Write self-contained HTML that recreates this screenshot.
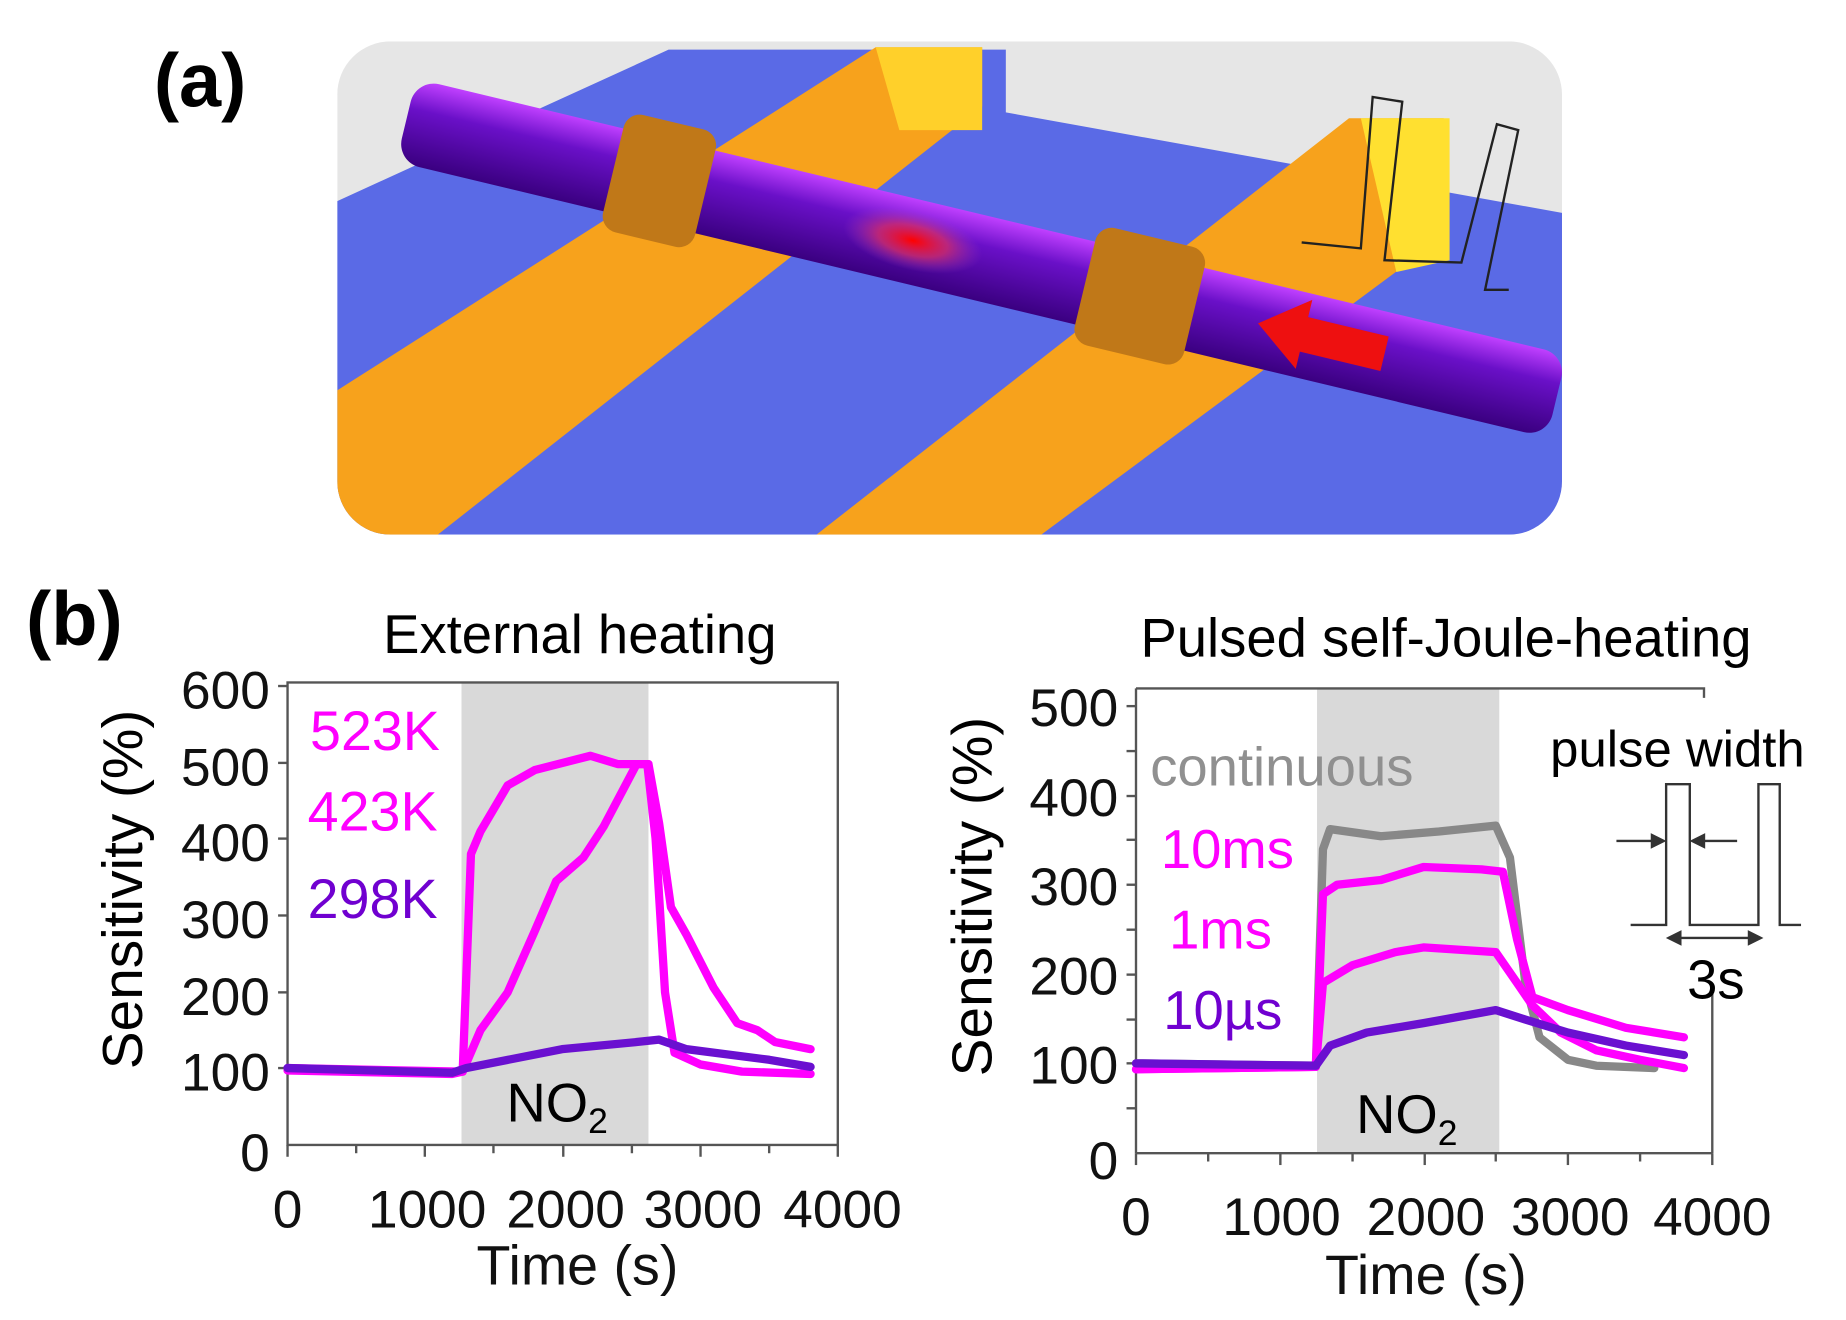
<!DOCTYPE html>
<html><head><meta charset="utf-8"><style>html,body{margin:0;padding:0;background:#fff}svg{display:block}</style></head>
<body>
<svg width="1846" height="1320" viewBox="0 0 1560 1116" preserveAspectRatio="none" xmlns="http://www.w3.org/2000/svg" font-family="Liberation Sans, Arial, sans-serif">
<defs>
<clipPath id="pa"><rect x="285" y="35" width="1035" height="417" rx="45"/></clipPath>
<linearGradient id="wire" x1="0" y1="0" x2="0" y2="1"><stop offset="0" stop-color="#c040ff"/><stop offset="0.35" stop-color="#6a10c8"/><stop offset="1" stop-color="#3a0080"/></linearGradient>
<radialGradient id="spot"><stop offset="0" stop-color="#ff0000"/><stop offset="0.5" stop-color="#e03060" stop-opacity="0.7"/><stop offset="1" stop-color="#a040c0" stop-opacity="0"/></radialGradient>
</defs>
<g clip-path="url(#pa)">
<rect x="285" y="35" width="1035" height="417" fill="#e6e6e6"/>
<polygon points="285,170 565,42 850,42 850,95 1320,180 1320,452 285,452" fill="#5a6ae6"/>
<polygon points="285,330 740,40 830,40 830,90 370,452 285,452" fill="#f7a21c"/>
<polygon points="740,40 830,40 830,110 760,110" fill="#ffd02a"/>
<polygon points="690,452 1140,100 1220,100 1220,200 880,452" fill="#f7a21c"/>
<polygon points="1150,100 1225,100 1225,220 1180,230" fill="#ffe030"/>
<g transform="rotate(13.5 820 215)">
<rect x="330" y="180" width="1000" height="72" rx="20" fill="url(#wire)"/>
<rect x="510" y="165" width="80" height="102" rx="14" fill="#c07818"/>
<rect x="920" y="165" width="95" height="102" rx="14" fill="#c07818"/>
<ellipse cx="770" cy="215" rx="60" ry="25" fill="url(#spot)"/>
<polygon points="1070,215 1110,185 1110,200 1180,200 1180,230 1110,230 1110,245" fill="#ee1010"/>
</g>
<polyline points="1100,205 1150,210 1160,82 1185,86 1170,220 1235,222 1265,105 1283,110 1255,245 1275,245" fill="none" stroke="#222" stroke-width="2"/>
</g>
<text x="130" y="90" font-size="64" font-weight="bold">(a)</text>
<text x="22" y="545" font-size="64" font-weight="bold">(b)</text>

<text x="490" y="552" font-size="46" text-anchor="middle">External heating</text>
<rect x="390" y="577" width="158" height="391" fill="#d9d9d9"/>
<rect x="243" y="577" width="465" height="391" fill="none" stroke="#555" stroke-width="2"/>
<g stroke="#555" stroke-width="2">
<line x1="243" y1="968" x2="243" y2="978"/><line x1="301" y1="968" x2="301" y2="975"/><line x1="359" y1="968" x2="359" y2="978"/><line x1="417" y1="968" x2="417" y2="975"/><line x1="476" y1="968" x2="476" y2="978"/><line x1="534" y1="968" x2="534" y2="975"/><line x1="592" y1="968" x2="592" y2="978"/><line x1="650" y1="968" x2="650" y2="975"/><line x1="708" y1="968" x2="708" y2="978"/>
<line x1="235" y1="580" x2="243" y2="580"/><line x1="235" y1="645" x2="243" y2="645"/><line x1="235" y1="709" x2="243" y2="709"/><line x1="235" y1="774" x2="243" y2="774"/><line x1="235" y1="839" x2="243" y2="839"/><line x1="235" y1="903" x2="243" y2="903"/>
</g>
<g font-size="45" text-anchor="end" fill="#111">
<text x="228" y="599">600</text><text x="228" y="664">500</text><text x="228" y="728">400</text><text x="228" y="793">300</text><text x="228" y="858">200</text><text x="228" y="922">100</text><text x="228" y="990">0</text>
</g>
<g font-size="45" text-anchor="middle" fill="#111">
<text x="243" y="1038">0</text><text x="361" y="1038">1000</text><text x="478" y="1038">2000</text><text x="594" y="1038">3000</text><text x="712" y="1038">4000</text>
<text x="488" y="1086" font-size="47">Time (s)</text>
</g>
<text transform="translate(120 752) rotate(-90)" font-size="48" text-anchor="middle">Sensitivity (%)</text>
<text x="428" y="948" font-size="46">NO<tspan font-size="30" dy="10">2</tspan></text>
<text x="262" y="634" font-size="47" fill="#ff00ff">523K</text>
<text x="260" y="702" font-size="47" fill="#ff00ff">423K</text>
<text x="260" y="776" font-size="47" fill="#7000d0">298K</text>
<g fill="none" stroke-width="7" stroke-linejoin="round" stroke-linecap="round">
<polyline stroke="#ff00ff" points="243,905 382,908 391,906 398,722 406,703 429,664 452,651 499,639 522,646 538,646 548,646 547,646 554,709 562,839 570,890 592,900 627,906 685,908"/>
<polyline stroke="#ff00ff" points="243,903 391,906 406,871 429,839 452,787 470,745 493,725 510,699 538,646 548,646 557,696 567,767 580,790 603,835 623,865 640,871 655,881 685,887"/>
<polyline stroke="#6a10d0" points="243,903 382,907 394,903 475,887 538,881 557,879 580,887 650,896 685,902"/>
</g>

<text x="1222" y="555" font-size="46" text-anchor="middle">Pulsed self-Joule-heating</text>
<rect x="1113" y="582" width="154" height="393" fill="#d9d9d9"/>
<g stroke="#555" stroke-width="2" fill="none">
<polyline points="960,582 1440,582 1440,590"/>
<line x1="1447" y1="840" x2="1447" y2="975"/>
<line x1="960" y1="582" x2="960" y2="975"/>
<line x1="960" y1="975" x2="1447" y2="975"/>
<line x1="960" y1="975" x2="960" y2="985"/><line x1="1021" y1="975" x2="1021" y2="982"/><line x1="1082" y1="975" x2="1082" y2="985"/><line x1="1143" y1="975" x2="1143" y2="982"/><line x1="1204" y1="975" x2="1204" y2="985"/><line x1="1264" y1="975" x2="1264" y2="982"/><line x1="1325" y1="975" x2="1325" y2="985"/><line x1="1386" y1="975" x2="1386" y2="982"/><line x1="1447" y1="975" x2="1447" y2="985"/>
<line x1="952" y1="597" x2="960" y2="597"/><line x1="952" y1="635" x2="960" y2="635"/><line x1="952" y1="673" x2="960" y2="673"/><line x1="952" y1="710" x2="960" y2="710"/><line x1="952" y1="748" x2="960" y2="748"/><line x1="952" y1="786" x2="960" y2="786"/><line x1="952" y1="824" x2="960" y2="824"/><line x1="952" y1="862" x2="960" y2="862"/><line x1="952" y1="899" x2="960" y2="899"/><line x1="952" y1="937" x2="960" y2="937"/>
</g>
<g font-size="45" text-anchor="end" fill="#111">
<text x="945" y="614">500</text><text x="945" y="690">400</text><text x="945" y="765">300</text><text x="945" y="841">200</text><text x="945" y="916">100</text><text x="945" y="997">0</text>
</g>
<g font-size="45" text-anchor="middle" fill="#111">
<text x="960" y="1044">0</text><text x="1083" y="1044">1000</text><text x="1205" y="1044">2000</text><text x="1327" y="1044">3000</text><text x="1447" y="1044">4000</text>
<text x="1205" y="1094" font-size="47">Time (s)</text>
</g>
<text transform="translate(838 758) rotate(-90)" font-size="48" text-anchor="middle">Sensitivity (%)</text>
<text x="1146" y="958" font-size="46">NO<tspan font-size="30" dy="10">2</tspan></text>
<text x="972" y="664" font-size="46" fill="#909090">continuous</text>
<text x="981" y="734" font-size="46" fill="#ff00ff">10ms</text>
<text x="988" y="802" font-size="46" fill="#ff00ff">1ms</text>
<text x="983" y="870" font-size="46" fill="#7000d0">10µs</text>
<text x="1310" y="648" font-size="43">pulse width</text>
<text x="1450" y="844" font-size="46" text-anchor="middle">3s</text>
<g stroke="#333" stroke-width="2" fill="none">
<polyline points="1378,782 1408,782 1408,663 1428,663 1428,782 1486,782 1486,663 1504,663 1504,782 1522,782"/>
<line x1="1366" y1="711" x2="1404" y2="711"/><polygon points="1406,711 1396,706 1396,716" fill="#333"/>
<line x1="1432" y1="711" x2="1468" y2="711"/><polygon points="1430,711 1440,706 1440,716" fill="#333"/>
<line x1="1414" y1="793" x2="1484" y2="793"/><polygon points="1410,793 1420,788 1420,798" fill="#333"/><polygon points="1488,793 1478,788 1478,798" fill="#333"/>
</g>
<g fill="none" stroke-width="7" stroke-linejoin="round" stroke-linecap="round">
<polyline stroke="#888" points="960,899 1112,901 1118,718 1124,701 1167,707 1216,703 1264,698 1276,725 1289,831 1301,877 1325,896 1349,901 1398,903"/>
<polyline stroke="#ff00ff" points="960,904 1112,902 1118,756 1130,748 1167,744 1203,733 1252,735 1270,737 1282,794 1295,843 1325,854 1374,869 1423,877"/>
<polyline stroke="#ff00ff" points="960,904 1112,902 1118,831 1143,816 1179,805 1203,801 1264,805 1282,831 1295,850 1319,873 1349,888 1386,896 1423,903"/>
<polyline stroke="#6a10d0" points="960,899 1112,901 1124,884 1155,873 1203,865 1264,854 1289,862 1325,873 1374,884 1423,892"/>
</g>
</svg>
</body></html>
